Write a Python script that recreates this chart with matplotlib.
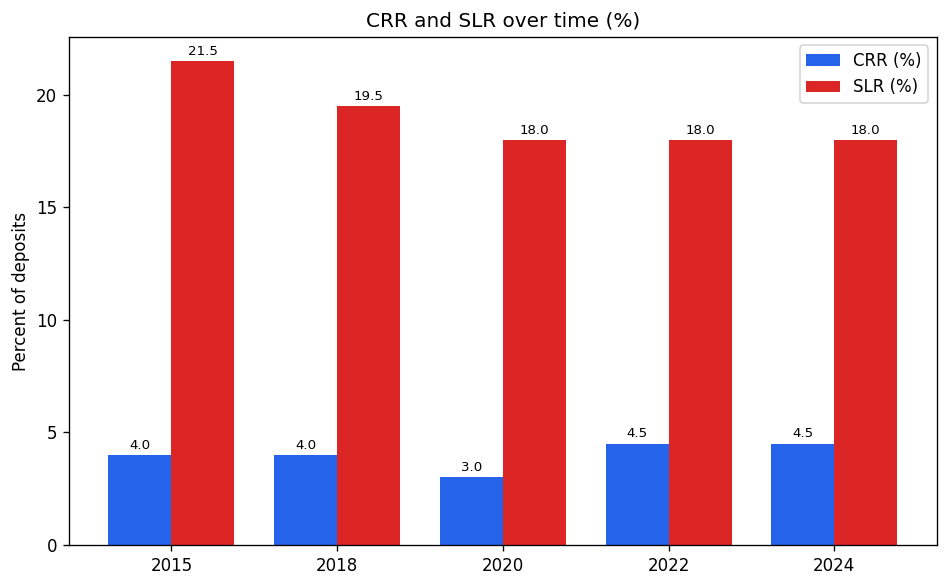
import numpy as np
import matplotlib.pyplot as plt

years = ["2015", "2018", "2020", "2022", "2024"]
crr = [4.0, 4.0, 3.0, 4.5, 4.5]
slr = [21.5, 19.5, 18.0, 18.0, 18.0]

x = np.arange(len(years))
w = 0.38

fig, ax = plt.subplots(figsize=(949 / 120, 587 / 120), dpi=120)
b1 = ax.bar(x - w / 2, crr, w, label="CRR (%)", color="#2563eb")
b2 = ax.bar(x + w / 2, slr, w, label="SLR (%)", color="#dc2626")

# value labels
for bars in (b1, b2):
    for r in bars:
        ax.annotate(f"{r.get_height():.1f}", (r.get_x() + r.get_width() / 2, r.get_height()),
                    xytext=(0, 2), textcoords="offset points", ha="center", va="bottom", fontsize=8)

ax.set_xticks(x)
ax.set_xticklabels(years)
ax.set_ylabel("Percent of deposits")
ax.set_title("CRR and SLR over time (%)")
ax.legend(loc="upper right")

plt.subplots_adjust(left=0.0727, right=0.987, top=0.937, bottom=0.0716)
plt.savefig("out.png")
